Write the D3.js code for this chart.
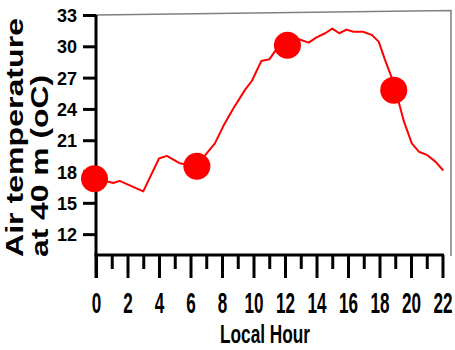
<!DOCTYPE html>
<html>
<head>
<meta charset="utf-8">
<script src="https://cdn.jsdelivr.net/npm/d3@7"></script>
<style>
  html, body { margin: 0; padding: 0; background: #fff; }
  svg { display: block; }
  text { font-family: "Liberation Sans", Arial, sans-serif; font-weight: bold; fill: #000; }
</style>
</head>
<body>
<svg id="chart" width="455" height="350"></svg>
<script>
// ---- data ----
const hours = [0, 1.1, 1.5, 3.0, 4.0, 4.5, 5.3, 6.5, 7.0, 7.55, 8.1, 8.7, 9.45, 9.9, 10.5, 11.0, 11.5, 12.25, 12.75, 13.5, 14.0, 14.55, 15.0, 15.45, 15.9, 16.35, 16.95, 17.5, 17.95, 18.35, 18.8, 19.3, 19.55, 20.05, 20.5, 21.0, 21.55, 22.05];
const temps = [17.3, 16.9, 17.1, 16.1, 19.25, 19.5, 18.8, 18.5, 19.7, 20.7, 22.4, 24.0, 25.8, 26.7, 28.6, 28.75, 29.8, 30.3, 30.75, 30.35, 30.85, 31.25, 31.7, 31.25, 31.6, 31.4, 31.4, 31.1, 30.45, 28.7, 26.9, 24.2, 22.8, 20.7, 19.9, 19.6, 18.95, 18.1];
const markerHours = [0, 6.5, 12.25, 19.0];
const markerTemps = [17.3, 18.5, 30.1, 25.8];
const yTicks = [12, 15, 18, 21, 24, 27, 30, 33];
const xMajorTicks = [0, 2, 4, 6, 8, 10, 12, 14, 16, 18, 20, 22];
const xMinorTicks = [1, 3, 5, 7, 9, 11, 13, 15, 17, 19, 21];
const yTitleLines = ["Air temperature", "at 40 m (oC)"];
const xTitle = "Local Hour";

const svg = d3.select("#chart");
const x = d3.scaleLinear().domain([0, 22]).range([96, 442.5]);
const y = d3.scaleLinear().domain([10, 33]).range([255, 15]);

// gray frame (top and right)
svg.append("path")
  .attr("d", `M${x(0)},${y(33)} L451,10.5 L451,256`)
  .attr("fill", "none").attr("stroke", "#808080").attr("stroke-width", 1.5);

// x axis minor ticks
const xMinor = svg.append("g").attr("transform", `translate(0,${y(10)})`)
  .call(d3.axisBottom(x).tickValues(xMinorTicks).tickSize(14).tickFormat(""));
// x axis major ticks
const xMajor = svg.append("g").attr("transform", `translate(0,${y(10)})`)
  .call(d3.axisBottom(x).tickValues(xMajorTicks).tickSize(23).tickFormat(d3.format("d")));
[xMinor, xMajor].forEach(g => {
  g.select(".domain").remove();
  g.selectAll(".tick line").attr("stroke", "#000").attr("stroke-width", 3);
});
xMajor.selectAll(".tick text")
  .attr("y", 0).attr("dy", null)
  .attr("font-size", 30)
  .attr("font-family", "'Liberation Sans', Arial, sans-serif")
  .attr("font-weight", "bold")
  .attr("fill", "#000")
  .attr("transform", "translate(0,58) scale(0.57,1)");

// y axis
const yAxis = svg.append("g").attr("transform", `translate(${x(0)},0)`)
  .call(d3.axisLeft(y).tickValues(yTicks).tickSize(13).tickPadding(6).tickFormat(d3.format("d")));
yAxis.select(".domain").remove();
yAxis.selectAll(".tick line").attr("stroke", "#000").attr("stroke-width", 3);
yAxis.selectAll(".tick text")
  .attr("font-size", 18)
  .attr("font-family", "'Liberation Sans', Arial, sans-serif")
  .attr("font-weight", "bold")
  .attr("fill", "#000")
  .attr("dy", "0.36em");

// axis lines
svg.append("line")
  .attr("x1", x(0)).attr("x2", x(0))
  .attr("y1", y(33)).attr("y2", y(10) + 23)
  .attr("stroke", "#000").attr("stroke-width", 3);
svg.append("line")
  .attr("x1", x(0) - 1.5).attr("x2", x(22) + 1.5)
  .attr("y1", y(10)).attr("y2", y(10))
  .attr("stroke", "#000").attr("stroke-width", 3);

// data line
const line = d3.line().x((d, i) => x(hours[i])).y(d => y(d));
svg.append("path")
  .datum(temps)
  .attr("d", line)
  .attr("fill", "none")
  .attr("stroke", "#ff0000")
  .attr("stroke-width", 2)
  .attr("stroke-linejoin", "round");

// markers
svg.selectAll("circle.marker")
  .data(markerTemps)
  .join("circle")
  .attr("class", "marker")
  .attr("cx", (d, i) => x(markerHours[i]) - 1.5)
  .attr("cy", d => y(d))
  .attr("r", 13.5)
  .attr("fill", "#ff0000");

// y title
const yTitle = svg.append("g");
yTitleLines.forEach((t, i) => {
  const bx = i === 0 ? 23 : 48;
  yTitle.append("text")
    .attr("transform", `translate(${bx},257) rotate(-90)`)
    .attr("font-size", 24)
    .attr("textLength", i === 0 ? 239 : 182)
    .attr("lengthAdjust", "spacingAndGlyphs")
    .text(t);
});

// x title
svg.append("text")
  .attr("x", 220).attr("y", 343)
  .attr("font-size", 25)
  .attr("textLength", 90)
  .attr("lengthAdjust", "spacingAndGlyphs")
  .text(xTitle);
</script>
</body>
</html>
